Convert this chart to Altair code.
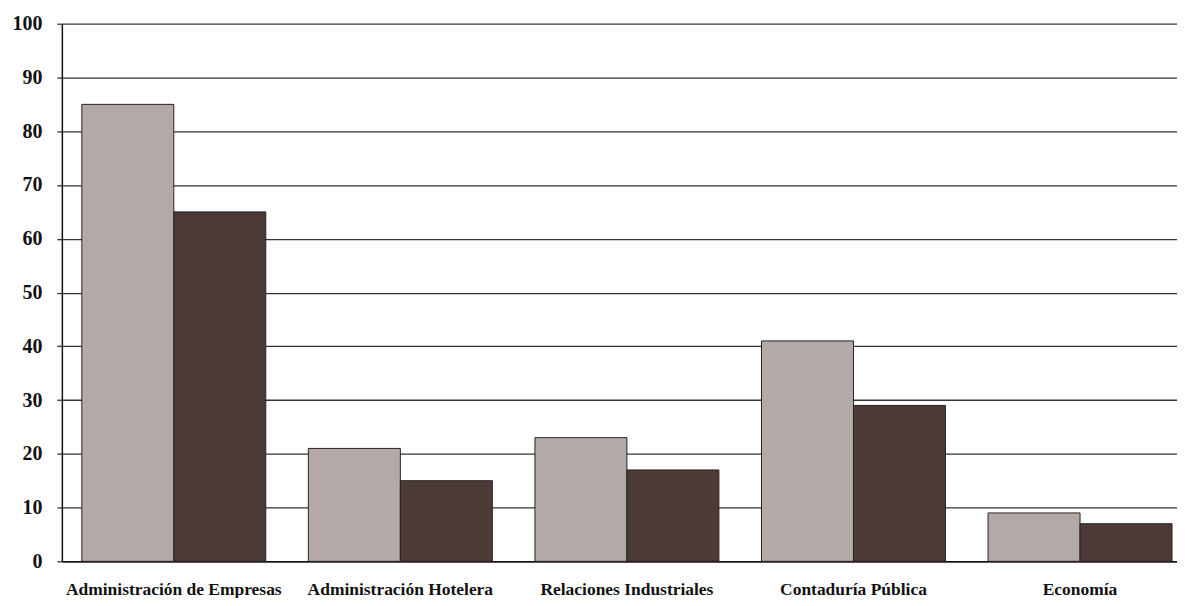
import altair as alt
import pandas as pd

categories = ["Administración de Empresas", "Administración Hotelera",
              "Relaciones Industriales", "Contaduría Pública", "Economía"]
series_a = [85, 21, 23, 41, 9]
series_b = [65, 15, 17, 29, 7]
series_names = ["Serie 1", "Serie 2"]
y_ticks = [0, 10, 20, 30, 40, 50, 60, 70, 80, 90, 100]

rows = []
for c, a, b in zip(categories, series_a, series_b):
    rows.append({"carrera": c, "serie": series_names[0], "valor": a})
    rows.append({"carrera": c, "serie": series_names[1], "valor": b})
df = pd.DataFrame(rows)

chart = alt.Chart(df).mark_bar(stroke="#2a2220", strokeWidth=1).encode(
    x=alt.X("carrera:N", sort=categories, title=None,
            scale=alt.Scale(paddingInner=0.188, paddingOuter=0.055, align=0.8),
            axis=alt.Axis(labelAngle=0, ticks=False, domain=True, domainColor="#111",
                          domainWidth=1.5, labelFont="Liberation Serif",
                          labelFontWeight="bold", labelFontSize=17.5, labelColor="#111",
                          labelPadding=19, labelLimit=0, grid=False)),
    xOffset=alt.XOffset("serie:N", sort=series_names,
                        scale=alt.Scale(paddingInner=0, paddingOuter=0)),
    y=alt.Y("valor:Q", title=None,
            scale=alt.Scale(domain=[0, 100], nice=False),
            axis=alt.Axis(values=y_ticks, grid=True, gridColor="#333", gridWidth=1.3,
                          gridOpacity=1, domain=True, domainColor="#111", domainWidth=1.5,
                          ticks=True, tickSize=5, tickColor="#333", tickWidth=1.3,
                          labelFont="Liberation Serif", labelFontWeight="bold",
                          labelFontSize=20, labelColor="#111", labelPadding=15)),
    color=alt.Color("serie:N", sort=series_names, legend=None,
                    scale=alt.Scale(domain=series_names, range=["#b3aaa7", "#4b3a36"])),
).properties(
    width=1118, height=539,
    autosize=alt.AutoSizeParams(type="none"),
    padding={"left": 54, "top": 15, "right": 0, "bottom": 36},
).configure_view(stroke=None)

chart.save("out.html", embed_options={"renderer": "svg", "actions": False})
